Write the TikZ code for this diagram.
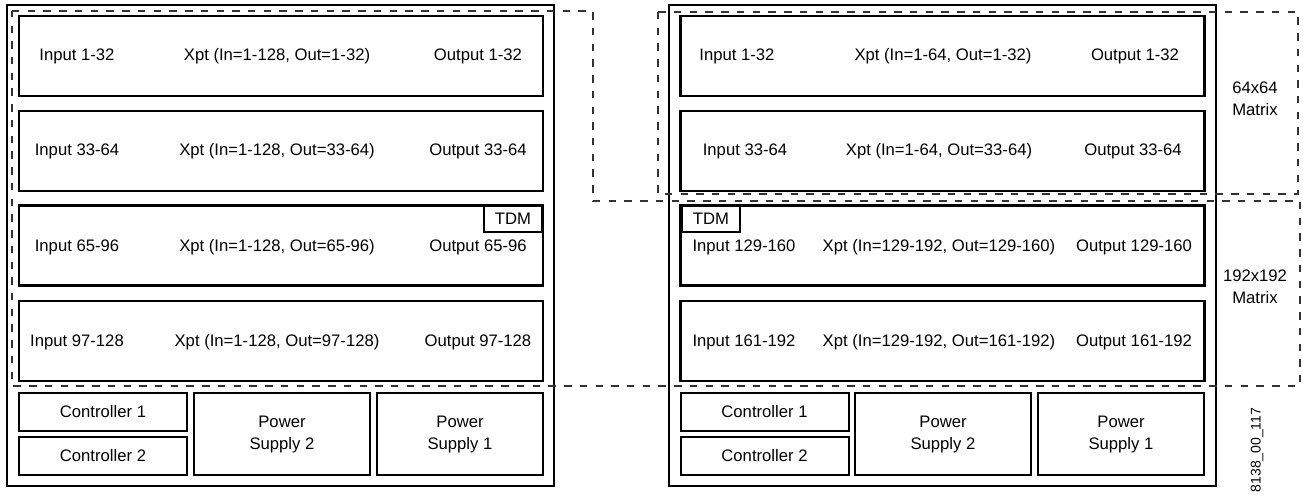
\documentclass[tikz,border=0pt]{standalone}
\usepackage{fontspec}
\setmainfont{Liberation Sans}
\usepackage{tikz}
\usetikzlibrary{positioning}

\begin{document}
\begin{tikzpicture}[x=0.75pt, y=-0.75pt, every node/.style={font=\fontsize{12.5}{16.5}\selectfont, inner sep=0pt}]
			\tikzstyle{chassis}=[draw=black, line width=1.5pt, minimum width=410.25pt, minimum height=361.1pt]
			\tikzstyle{module}=[draw=black, line width=1.6pt, minimum width=393pt, minimum height=60pt]
			\tikzstyle{ctrl}=[draw=black, line width=1.5pt, minimum width=126pt, minimum height=28.5pt]
			\tikzstyle{supplytwo}=[draw=black, line width=1.5pt, minimum width=132pt, minimum height=61.5pt, align=center]
			\tikzstyle{supplyone}=[draw=black, line width=1.5pt, minimum width=124.5pt, minimum height=61.5pt, align=center]
			\tikzstyle{tdm}=[draw=black, line width=1.9pt, minimum width=43.5pt, minimum height=20.25pt]
			\tikzstyle{matrixline}=[draw=black!80, line width=1.1pt, dash pattern=on 5.6pt off 6.2pt]
			
			\useasboundingbox (0,0) rectangle (1303,497);
			
			% left frame, 128x128
			\node (lc) at (280.5,245.25) [chassis] {};
			\node (lm1) at (281,56) [module] {};
			\node (lm2) at (281,151) [module] {};
			\node (lm3) at (281,245.5) [module] {};
			\node (lm4) at (281,341) [module] {};
			\node (ltdm) at (513,218.5) [tdm] {TDM};
			
			\node (li1) at (77,56) {Input 1-32};
			\node (lx1) at (277,56) {Xpt (In=1-128, Out=1-32)};
			\node (lo1) at (478,56) {Output 1-32};
			\node (li2) at (77,151) {Input 33-64};
			\node (lx2) at (277,151) {Xpt (In=1-128, Out=33-64)};
			\node (lo2) at (478,151) {Output 33-64};
			\node (li3) at (77,247) {Input 65-96};
			\node (lx3) at (277,247) {Xpt (In=1-128, Out=65-96)};
			\node (lo3) at (478,247) {Output 65-96};
			\node (li4) at (77,342) {Input 97-128};
			\node (lx4) at (277,342) {Xpt (In=1-128, Out=97-128)};
			\node (lo4) at (478,342) {Output 97-128};
			
			\node (lctrl1) at (103,412) [ctrl] {Controller 1};
			\node (lctrl2) at (103,456) [ctrl] {Controller 2};
			\node (lps2) at (282,434) [supplytwo] {Power\\Supply 2};
			\node (lps1) at (460,434) [supplyone] {Power\\Supply 1};
			
			% right frame, 64x64 + part of 192x192
			\node (rc) at (942.5,245.25) [chassis] {};
			\node (rm1) at (942.5,56) [module] {};
			\node (rm2) at (942.5,151) [module] {};
			\node (rm3) at (942.5,245.5) [module] {};
			\node (rm4) at (942.5,341) [module] {};
			\node (rtdm) at (711,218.5) [tdm] {TDM};
			
			\node (ri1) at (737,56) {Input 1-32};
			\node (rx1) at (943,56) {Xpt (In=1-64, Out=1-32)};
			\node (ro1) at (1135,56) {Output 1-32};
			\node (ri2) at (745,151) {Input 33-64};
			\node (rx2) at (939,151) {Xpt (In=1-64, Out=33-64)};
			\node (ro2) at (1133,151) {Output 33-64};
			\node (ri3) at (744,247) {Input 129-160};
			\node (rx3) at (939,247) {Xpt (In=129-192, Out=129-160)};
			\node (ro3) at (1134,247) {Output 129-160};
			\node (ri4) at (744,342) {Input 161-192};
			\node (rx4) at (939,342) {Xpt (In=129-192, Out=161-192)};
			\node (ro4) at (1134,342) {Output 161-192};
			
			\node (rctrl1) at (764.5,412) [ctrl] {Controller 1};
			\node (rctrl2) at (764.5,456) [ctrl] {Controller 2};
			\node (rps2) at (943,434) [supplytwo] {Power\\Supply 2};
			\node (rps1) at (1121,434) [supplyone] {Power\\Supply 1};
			
			% matrix outlines
			\draw [matrixline] (12,11) -- (593,11) -- (593,201) -- (1300,201) -- (1300,386) -- (12,386) -- cycle;
			\draw [matrixline] (658,12) rectangle (1298,194);
			
			\node (m64) at (1255,99) [align=center] {64x64\\Matrix};
			\node (m192) at (1255,287) [align=center] {192x192\\Matrix};
			
			\node (figno) at (1257,450) [rotate=90, font=\fontsize{10.5}{12}\selectfont] {8138\_00\_117};
			
			\end{tikzpicture}
\end{document}
